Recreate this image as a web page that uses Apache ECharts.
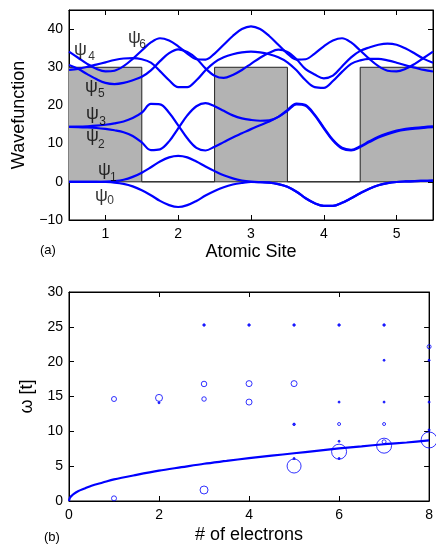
<!DOCTYPE html>
<html>
<head>
<meta charset="utf-8">
<script src="https://cdn.jsdelivr.net/npm/echarts@6/dist/echarts.min.js"></script>
<style>
html,body{margin:0;padding:0;background:#fff;}
#chart{width:436px;height:546px;}
</style>
</head>
<body>
<div id="chart"></div>
<script>
// ---------- panel (a) data ----------
const sites = [0.5,0.625,0.75,0.875,1,1.125,1.25,1.375,1.5,1.625,1.75,1.875,2,2.125,2.25,2.375,2.5,2.625,2.75,2.875,3,3.125,3.25,3.375,3.5,3.625,3.75,3.875,4,4.125,4.25,4.375,4.5,4.625,4.75,4.875,5,5.125,5.25,5.375,5.5];
const psi0 = [0,0,0,0,-0.05,-0.2,-0.55,-1.2,-2.2,-3.5,-5.0,-6.1,-6.6,-6.1,-5.0,-3.6,-2.4,-1.4,-0.7,-0.3,-0.05,-0.1,-0.2,-0.6,-1.3,-2.6,-4.3,-5.6,-6.3,-6.3,-5.5,-4.3,-3.0,-1.8,-0.9,-0.35,-0.05,0.1,0.2,0.25,0.3];
const psi1 = [0,0,0,0,0.05,0.2,0.55,1.3,2.4,3.8,5.3,6.4,6.8,6.4,5.3,4.0,2.8,1.7,0.9,0.35,0.05,-0.1,-0.2,-0.6,-1.3,-2.6,-4.3,-5.6,-6.3,-6.3,-5.5,-4.3,-3.0,-1.8,-0.9,-0.35,-0.05,0.1,0.2,0.25,0.3];
const psi2 = [14.4,14.35,14.25,14.1,13.85,13.5,13.0,12.0,10.3,8.3,8.5,10.6,14.0,17.4,19.8,20.6,19.8,18.6,17.4,16.6,16.2,16.0,16.1,17.0,18.8,20.5,20.1,17.6,14.2,11.0,8.9,8.4,9.3,10.6,11.8,12.7,13.4,13.85,14.15,14.35,14.5];
const psi3 = [14.4,14.45,14.55,14.7,14.95,15.3,15.8,16.7,18.1,20.4,20.3,18.1,14.8,11.4,8.9,8.2,9.2,10.4,11.6,12.7,13.8,14.8,15.8,17.0,18.6,20.3,19.9,17.4,14.0,10.8,8.7,8.2,9.1,10.4,11.6,12.5,13.2,13.65,13.95,14.15,14.3];
const psi4 = [34.1,32.5,30.9,29.6,28.9,29.1,30.3,32.2,34.4,36.5,37.6,37.0,35.5,33.6,32.1,32.0,33.6,35.9,38.2,40.0,40.7,40.0,38.2,35.9,33.6,32.0,32.1,33.6,35.5,37.0,37.6,36.5,34.4,32.2,30.3,29.1,28.9,29.6,30.9,32.5,34.1];
const psi5 = [30.6,29.6,28.2,26.9,25.9,25.6,25.9,26.6,27.5,29.2,31.6,33.7,34.7,34.0,32.3,29.7,27.8,27.2,28.0,29.3,30.9,32.5,33.8,34.6,34.0,32.1,29.5,28.1,27.1,27.8,30.2,32.6,34.3,35.2,35.9,36.2,35.9,34.9,33.6,32.2,31.2];
const psi6 = [29.3,29.6,30.1,30.7,31.3,31.9,32.3,32.4,32.1,31.2,29.0,26.6,24.8,24.8,26.6,29.2,31.3,32.6,33.4,33.9,34.1,33.9,33.4,32.6,31.3,29.2,26.6,24.8,24.6,26.4,28.8,30.9,31.8,32.2,32.2,31.8,31.2,30.5,29.9,29.3,28.9];
const barStart = [0.5, 2.5, 4.5];
const barEnd = [1.5, 3.5, 5.5];
const barHeight = 30;
const siteTicks = [1,2,3,4,5];
const waveTicks = [-10,0,10,20,30,40];
// label anchors (data coords) for psi_n
const psiNames = ['0','1','2','3','4','5','6'];
const psiGlyphX = [0.946,0.987,0.822,0.822,0.658,0.808,1.399];
const psiGlyphY = [-3.8,3.07,11.99,17.77,34.56,24.85,37.72];
const psiSubX = [1.07,1.11,0.945,0.96,0.81,0.945,1.51];
const psiSubY = [-5.0,1.1,9.8,15.8,32.9,23.1,36.0];

// ---------- panel (b) data ----------
const elecN = [1,1, 2,2, 3,3,3,3, 4,4,4, 5,5,5,5,5, 6,6,6,6,6,6, 7,7,7,7,7,7, 8,8,8,8,8];
const omegaVals = [14.64,0.38, 14.8,14.1, 25.26,16.8,14.64,1.58, 25.26,16.85,14.2, 25.26,16.85,11.0,6.1,5.02, 25.26,14.2,11.05,8.57,7.08,6.1, 25.26,20.2,14.2,11.05,8.5,7.94, 22.15,20.2,14.2,10.2,8.76];
const weights = [5,5, 7,2, 2.5,5.5,4.5,8, 2.5,6,6, 2.5,6,2.5,2,14, 2.5,2,3,2,15,2, 2.5,2,2,3,4,15, 4,2,2,2,16];
const fitN = [0,0.02,0.05,0.1,0.2,0.35,0.5,0.75,1,1.5,2,2.5,3,3.5,4,4.5,5,5.5,6,6.5,7,7.5,8];
const fitW = [0,0.45,0.7,1.0,1.4,1.8,2.2,2.65,3.1,3.75,4.35,4.85,5.35,5.75,6.15,6.5,6.85,7.2,7.55,7.85,8.15,8.4,8.7];

// ---------- build ----------
const FONT = 'Liberation Sans';
const BLUE = '#0000ff';
const pair = (xs, ys) => xs.map((x, i) => [x, ys[i]]);
const fmtNum = v => (v < 0 ? '\u2212' + Math.abs(v) : String(v));

const potential = [];
barStart.forEach((s, i) => {
  if (i > 0) potential.push([s, 0]);
  potential.push([s, barHeight]);
  potential.push([barEnd[i], barHeight]);
  if (i < barStart.length - 1) potential.push([barEnd[i], 0]);
});

const psis = [psi0, psi1, psi2, psi3, psi4, psi5, psi6];
const axTickStyle = {color: '#000'};
const tickFont = {color: '#000', fontFamily: FONT, fontSize: 14};
const nameFont = {color: '#000', fontFamily: FONT, fontSize: 18};

const option = {
  animation: false,
  backgroundColor: '#fff',
  textStyle: {fontFamily: FONT},
  title: [
    {text: '(a)', left: 40, top: 244, padding: 0, textStyle: {fontFamily: FONT, fontSize: 13, fontWeight: 'normal', color: '#000'}},
    {text: '(b)', left: 44, top: 531, padding: 0, textStyle: {fontFamily: FONT, fontSize: 13, fontWeight: 'normal', color: '#000'}}
  ],
  grid: [
    {left: 69, right: 3, top: 10, bottom: 326, show: true, borderColor: '#000', borderWidth: 1, backgroundColor: '#fff'},
    {left: 69, right: 3, top: 292, bottom: 45, show: true, borderColor: '#000', borderWidth: 1, backgroundColor: '#fff'}
  ],
  xAxis: [
    {type: 'value', gridIndex: 0, min: 0.5, max: 5.5, position: 'bottom',
     axisLine: {show: true, onZero: false, lineStyle: {color: '#000'}},
     axisTick: {show: true, inside: true, length: 5, customValues: siteTicks, lineStyle: axTickStyle},
     axisLabel: Object.assign({margin: 7, customValues: siteTicks, formatter: fmtNum}, tickFont),
     splitLine: {show: false},
     name: 'Atomic Site', nameLocation: 'middle', nameGap: 23, nameTextStyle: nameFont},
    {type: 'value', gridIndex: 0, min: 0.5, max: 5.5, position: 'top',
     axisLine: {show: true, onZero: false, lineStyle: {color: '#000'}},
     axisTick: {show: true, inside: true, length: 5, customValues: siteTicks, lineStyle: axTickStyle},
     axisLabel: {show: false}, splitLine: {show: false}},
    {type: 'value', gridIndex: 1, min: 0, max: 8, interval: 2, position: 'bottom',
     axisLine: {show: true, onZero: false, lineStyle: {color: '#000'}},
     axisTick: {show: true, inside: true, length: 5, lineStyle: axTickStyle},
     axisLabel: Object.assign({margin: 7, formatter: fmtNum}, tickFont),
     splitLine: {show: false},
     name: '# of electrons', nameLocation: 'middle', nameGap: 25, nameTextStyle: nameFont},
    {type: 'value', gridIndex: 1, min: 0, max: 8, interval: 2, position: 'top',
     axisLine: {show: true, onZero: false, lineStyle: {color: '#000'}},
     axisTick: {show: true, inside: true, length: 5, lineStyle: axTickStyle},
     axisLabel: {show: false}, splitLine: {show: false}}
  ],
  yAxis: [
    {type: 'value', gridIndex: 0, min: -10, max: 45, position: 'left',
     axisLine: {show: true, onZero: false, lineStyle: {color: '#000'}},
     axisTick: {show: true, inside: true, length: 5, customValues: waveTicks, lineStyle: axTickStyle},
     axisLabel: Object.assign({margin: 6, customValues: waveTicks, formatter: fmtNum}, tickFont),
     splitLine: {show: false},
     name: 'Wavefunction', nameLocation: 'middle', nameGap: 40, nameTextStyle: nameFont},
    {type: 'value', gridIndex: 0, min: -10, max: 45, position: 'right',
     axisLine: {show: true, onZero: false, lineStyle: {color: '#000'}},
     axisTick: {show: true, inside: true, length: 5, customValues: waveTicks, lineStyle: axTickStyle},
     axisLabel: {show: false}, splitLine: {show: false}},
    {type: 'value', gridIndex: 1, min: 0, max: 30, interval: 5, position: 'left',
     axisLine: {show: true, onZero: false, lineStyle: {color: '#000'}},
     axisTick: {show: true, inside: true, length: 5, lineStyle: axTickStyle},
     axisLabel: Object.assign({margin: 6, formatter: fmtNum}, tickFont),
     splitLine: {show: false},
     name: 'ω [t]', nameLocation: 'middle', nameGap: 29, nameTextStyle: nameFont},
    {type: 'value', gridIndex: 1, min: 0, max: 30, interval: 5, position: 'right',
     axisLine: {show: true, onZero: false, lineStyle: {color: '#000'}},
     axisTick: {show: true, inside: true, length: 5, lineStyle: axTickStyle},
     axisLabel: {show: false}, splitLine: {show: false}}
  ],
  series: []
};

// potential (gray barriers)
option.series.push({
  type: 'line', xAxisIndex: 0, yAxisIndex: 0, data: potential,
  symbol: 'none', silent: true, z: 1,
  lineStyle: {color: '#222', width: 1},
  areaStyle: {color: '#b3b3b3', opacity: 1, origin: 0}
});
// baseline at 0 across the well regions
option.series.push({
  type: 'line', xAxisIndex: 0, yAxisIndex: 0, data: [[0.5, 0], [5.5, 0]],
  symbol: 'none', silent: true, z: 1,
  lineStyle: {color: '#222', width: 1}
});

psis.forEach((ys, k) => {
  option.series.push({
    type: 'line', name: 'psi' + k, xAxisIndex: 0, yAxisIndex: 0,
    data: pair(sites, ys), symbol: 'none', smooth: 0.35, z: 3,
    lineStyle: {color: BLUE, width: 2.2}
  });
});

// psi labels
option.series.push({
  type: 'scatter', xAxisIndex: 0, yAxisIndex: 0, symbolSize: 1, z: 5,
  itemStyle: {color: 'rgba(0,0,0,0)'},
  data: psiNames.map((n, i) => ({value: [psiGlyphX[i], psiGlyphY[i]]})),
  label: {show: true, position: 'inside', formatter: 'ψ', color: '#000', fontFamily: FONT, fontSize: 18}
});
option.series.push({
  type: 'scatter', xAxisIndex: 0, yAxisIndex: 0, symbolSize: 1, z: 5,
  itemStyle: {color: 'rgba(0,0,0,0)'},
  data: psiNames.map((n, i) => ({value: [psiSubX[i], psiSubY[i]], name: n})),
  label: {show: true, position: 'inside', formatter: '{b}', color: '#000', fontFamily: FONT, fontSize: 12}
});

// panel (b)
option.series.push({
  type: 'line', xAxisIndex: 2, yAxisIndex: 2, data: pair(fitN, fitW),
  symbol: 'none', smooth: 0.3, z: 3,
  lineStyle: {color: BLUE, width: 2.2}
});
option.series.push({
  type: 'scatter', xAxisIndex: 2, yAxisIndex: 2, z: 4,
  data: elecN.map((n, i) => [n, omegaVals[i], weights[i]]),
  symbol: 'circle',
  symbolSize: d => d[2],
  itemStyle: {
    color: p => (p.data[2] <= 2.5 ? BLUE : 'rgba(0,0,0,0)'),
    borderColor: BLUE, borderWidth: 1
  }
});

const chart = echarts.init(document.getElementById('chart'), null, {renderer: 'canvas'});
chart.setOption(option);
</script>
</body>
</html>
